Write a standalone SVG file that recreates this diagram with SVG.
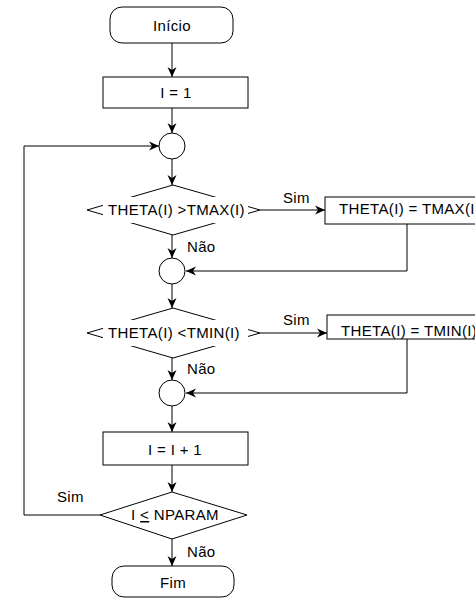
<svg xmlns="http://www.w3.org/2000/svg" width="475" height="600" viewBox="0 0 475 600">
<style>
.s{fill:#fff;stroke:#000;stroke-width:1}
.c{fill:none;stroke:#000;stroke-width:1}
.t{font-family:"Liberation Sans",Arial,sans-serif;font-size:15px;letter-spacing:0.35px;fill:#000}
.m{text-anchor:middle}
.bg{fill:#fff;stroke:none}
</style>
<defs>
<marker id="ah" markerUnits="userSpaceOnUse" markerWidth="11" markerHeight="10" refX="10" refY="5" orient="auto">
<path d="M0,0.5 L10,5 L0,9.5 L3,5 z" fill="#000"/>
</marker>
</defs>
<rect width="475" height="600" fill="#fff"/>
<g id="connectors">
<line class="c" x1="172" y1="43" x2="172" y2="77" marker-end="url(#ah)"/>
<line class="c" x1="172" y1="108" x2="172" y2="133" marker-end="url(#ah)"/>
<line class="c" x1="172" y1="159" x2="172" y2="185" marker-end="url(#ah)"/>
<line class="c" x1="260" y1="210" x2="325" y2="210" marker-end="url(#ah)"/>
<polyline class="c" points="407,224 407,271 186,271" marker-end="url(#ah)"/>
<line class="c" x1="172" y1="235" x2="172" y2="258" marker-end="url(#ah)"/>
<line class="c" x1="172" y1="284" x2="172" y2="308" marker-end="url(#ah)"/>
<line class="c" x1="260" y1="333" x2="327" y2="333" marker-end="url(#ah)"/>
<polyline class="c" points="407,339 407,393 186,393" marker-end="url(#ah)"/>
<line class="c" x1="172" y1="358" x2="172" y2="380" marker-end="url(#ah)"/>
<line class="c" x1="172" y1="406" x2="172" y2="432" marker-end="url(#ah)"/>
<line class="c" x1="172" y1="465" x2="172" y2="492" marker-end="url(#ah)"/>
<polyline class="c" points="100,515 24,515 24,146 159,146" marker-end="url(#ah)"/>
<line class="c" x1="172" y1="539" x2="172" y2="566" marker-end="url(#ah)"/>
<text class="t" x="283" y="203">Sim</text>
<text class="t" x="187" y="252">Não</text>
<text class="t" x="283" y="325">Sim</text>
<text class="t" x="187" y="374">Não</text>
<text class="t" x="57" y="502">Sim</text>
<text class="t" x="187" y="557">Não</text>
</g>
<g id="inicio">
<rect class="s" x="110" y="7" width="123" height="36" rx="12"/>
<text class="t m" x="172" y="31">Início</text>
</g>
<g id="init">
<rect class="s" x="103" y="77" width="145" height="31"/>
<text class="t m" x="176" y="98">I = 1</text>
</g>
<g id="join1">
<circle class="s" cx="172" cy="146" r="13"/>
</g>
<g id="dec1">
<polygon class="s" points="87,210 173,185 260,210 173,235"/>
<rect class="bg" x="103" y="197" width="145" height="26"/>
<text class="t" x="108" y="215">THETA(I) &gt;TMAX(I)</text>
</g>
<g id="setmax">
<rect class="s" x="325" y="197" width="160" height="27"/>
<text class="t" x="339" y="214">THETA(I) = TMAX(I)</text>
</g>
<g id="join2">
<circle class="s" cx="172" cy="271" r="13"/>
</g>
<g id="dec2">
<polygon class="s" points="87,333 173,308 260,333 173,358"/>
<rect class="bg" x="103" y="320" width="145" height="26"/>
<text class="t" x="108" y="338">THETA(I) &lt;TMIN(I)</text>
</g>
<g id="setmin">
<rect class="s" x="327" y="315" width="160" height="24"/>
<text class="t" x="341" y="336">THETA(I) = TMIN(I)</text>
</g>
<g id="join3">
<circle class="s" cx="172" cy="393" r="13"/>
</g>
<g id="incr">
<rect class="s" x="103" y="432" width="145" height="33"/>
<text class="t m" x="175" y="455">I = I + 1</text>
</g>
<g id="dec3">
<polygon class="s" points="100,515 172,492 247,515 172,539"/>
<text class="t m" x="175" y="520">I <tspan text-decoration="underline">&lt;</tspan> NPARAM</text>
</g>
<g id="fim">
<rect class="s" x="112" y="566" width="122" height="31" rx="12"/>
<text class="t m" x="173" y="588">Fim</text>
</g>
</svg>
